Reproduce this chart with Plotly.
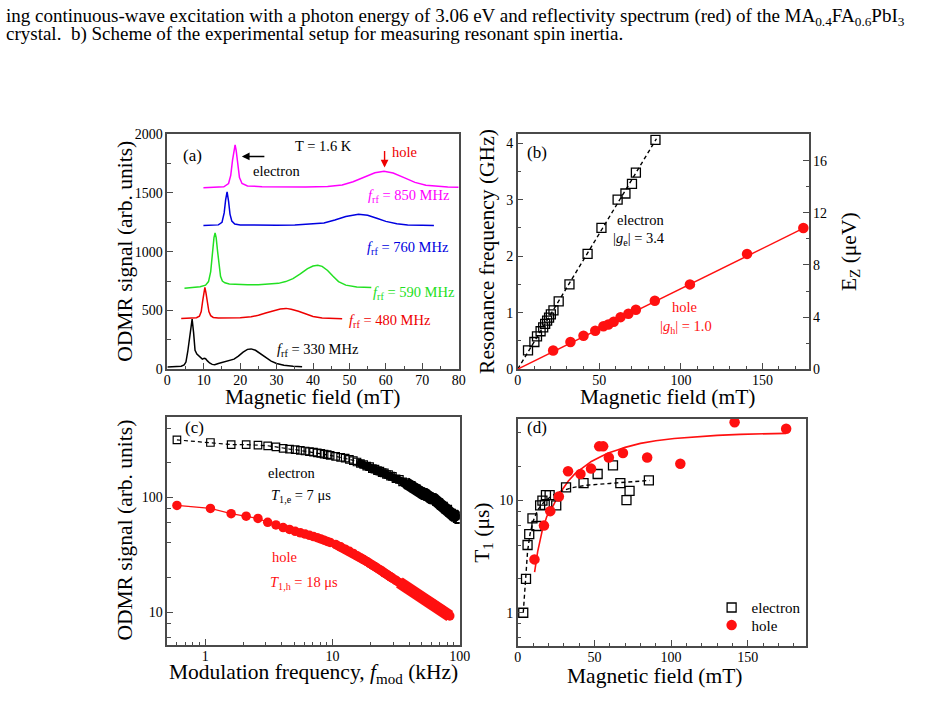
import plotly.graph_objects as go

W, H = 947, 702
FONT = "Liberation Serif, Times New Roman, serif"
FRAME = "#4a4a4a"
RED = "#ff1010"

# ---------------- panel (a): ODMR spectra ----------------
a_B_330 = [0, 2, 3.8, 4.6, 5.1, 5.6, 6.0, 6.4, 6.8, 7.2, 7.6, 8.1, 8.7, 9.2, 9.6, 10.1, 10.5, 11.0, 11.6, 12.3,
           13.0, 14.0, 15.5, 17.0, 18.3, 19.5, 20.8, 22.0, 23.0, 24.2, 25.5, 27.0, 28.5, 30.0, 32.0, 34.5, 37.0]
a_S_330 = [18, 20, 25, 35, 60, 150, 260, 360, 425, 310, 160, 128, 112, 95, 85, 92, 88, 70, 52, 40,
           38, 48, 62, 70, 85, 110, 145, 168, 172, 160, 130, 95, 68, 48, 32, 24, 20]
a_B_480 = [3.8, 6, 8, 8.8, 9.3, 9.7, 10.0, 10.3, 10.6, 11.0, 11.4, 11.9, 12.6, 14, 17, 20, 23, 25, 27, 29,
           31, 32.6, 34, 36, 38, 40, 42.5, 45, 48]
a_S_480 = [430, 432, 437, 450, 490, 580, 660, 695, 650, 560, 490, 455, 440, 435, 436, 438, 445, 458, 478, 498,
           512, 517, 510, 492, 468, 448, 436, 430, 428]
a_B_590 = [4.7, 7, 9, 10.5, 11.3, 11.9, 12.4, 12.8, 13.1, 13.4, 13.8, 14.2, 14.6, 15.1, 15.8, 17, 19, 22, 25,
           28, 30.5, 32.5, 34.5, 36.5, 38.5, 40, 41.3, 42.5, 44, 45.5, 47, 49, 52, 56]
a_S_590 = [688, 695, 702, 715, 745, 830, 1000, 1120, 1160, 1120, 1000, 900, 790, 750, 735, 725, 720, 718, 718,
           722, 730, 745, 770, 810, 855, 878, 885, 875, 840, 790, 745, 715, 700, 695]
a_B_760 = [9.9, 12, 14, 15.0, 15.6, 16.0, 16.4, 16.8, 17.2, 17.7, 18.5, 20, 25, 30, 35, 40, 43, 46, 49, 52.5,
           55, 57.5, 60, 63, 66, 70, 73.2]
a_S_760 = [1222, 1224, 1228, 1250, 1330, 1440, 1510, 1430, 1320, 1260, 1235, 1228, 1225, 1225, 1228, 1235,
           1245, 1270, 1300, 1318, 1310, 1285, 1258, 1238, 1228, 1224, 1222]
a_B_850 = [9.9, 13, 15.5, 16.8, 17.4, 17.9, 18.3, 18.6, 18.9, 19.3, 19.8, 20.5, 22, 26, 32, 38, 44, 48, 51,
           54, 57, 59.5, 62, 65, 68, 71, 74, 77, 80]
a_S_850 = [1545, 1547, 1552, 1580, 1650, 1780, 1880, 1910, 1860, 1740, 1630, 1580, 1560, 1553, 1550, 1550,
           1555, 1568, 1595, 1635, 1672, 1685, 1670, 1630, 1590, 1566, 1555, 1550, 1548]
a_labels = ["330", "480", "590", "760", "850"]
a_colors = ["#000000", "#ee0000", "#22e022", "#0000e0", "#ff00ff"]

# ---------------- panel (b): resonance frequency ----------------
b_e_B = [6.3, 10.2, 11.8, 14.0, 15.6, 16.8, 18.0, 19.2, 20.3, 21.9, 25.1, 31.7, 42.8, 51.3, 61.2, 66.0, 70.0, 72.4, 84.4]
b_e_f = [0.33, 0.48, 0.58, 0.67, 0.74, 0.80, 0.86, 0.91, 0.97, 1.04, 1.20, 1.50, 2.04, 2.50, 3.00, 3.11, 3.28, 3.48, 4.06]
b_h_B = [21.7, 32.3, 40.3, 47.5, 52.5, 55.5, 58.8, 63.0, 67.8, 72.4, 84.0, 105.5, 140.5, 175.0]
b_h_f = [0.33, 0.48, 0.59, 0.68, 0.76, 0.79, 0.84, 0.92, 0.98, 1.05, 1.21, 1.50, 2.04, 2.50]
b_e_fitB = [0, 85]
b_e_fitf = [0, 4.08]
b_h_fitB = [0, 175.5]
b_h_fitf = [0, 2.5]

# ---------------- panel (c): modulation frequency dependence ----------------
c_e_f = [0.6, 1.1, 1.6, 2.1, 2.6, 3.1, 3.6, 4.1, 4.6, 5.1, 5.6, 6.1, 6.6, 7.1, 7.6, 8.1, 8.6, 9.1, 9.6,
         10.6, 11.6, 12.6, 13.6, 14.6, 15.6, 16.6, 17.6, 18.6, 19.6, 20.6, 21.6, 22.6, 23.6, 24.6, 25.6, 26.6,
         27.6, 28.6, 29.6, 31.6, 33.6, 35.6, 37.6, 39.6, 41.6, 43.6, 45.6, 47.6, 49.6, 51.6, 53.6, 55.6, 57.6,
         59.6, 62.6, 65.6, 68.6, 71.6, 74.6, 77.6, 80.6, 83.6, 86.6, 89.6, 92.6, 95.6, 98.6]
c_e_S = [316, 300, 288, 288, 285, 281, 275, 267, 263, 260, 256, 253, 250, 247, 244, 241, 238, 235, 232,
         227, 223, 219, 214, 209, 203, 197, 193, 187, 185, 178, 176, 171, 169, 164, 163, 158, 158, 153, 152,
         145, 143, 136, 134, 128, 127, 121, 119, 114, 112, 107, 107, 102, 102, 98, 97, 92, 90, 85, 84, 79,
         79, 74, 73, 69, 69, 65, 64]
c_h_f = [0.6, 1.1, 1.6, 2.1, 2.6, 3.1, 3.6, 4.1, 4.6, 5.1, 5.6, 6.1, 6.6, 7.1, 7.6, 8.1, 8.6, 9.1, 9.6,
         10.6, 11.6, 12.6, 13.6, 14.6, 15.6, 16.6, 17.6, 18.6, 19.6, 20.6, 21.6, 22.6, 23.6, 24.6, 25.6, 26.6,
         27.6, 28.6, 29.6, 31.6, 33.6, 35.6, 37.6, 39.6, 41.6, 43.6, 45.6, 47.6, 49.6, 51.6, 53.6, 55.6, 57.6,
         59.6, 62.6, 65.6, 68.6, 71.6, 74.6, 77.6, 80.6, 83.6]
c_h_S = [85, 80, 72, 68.5, 65.5, 60.5, 57.5, 54.5, 52.5, 50.5, 49, 47.8, 46.6, 45.5, 44.5, 43.4, 42.3, 41.3,
         40.4, 38.8, 37, 35.3, 33.8, 32.4, 31, 29.8, 28.7, 27.6, 26.6, 25.7, 24.9, 24.1, 23.4, 22.7, 22, 21.4,
         20.8, 20.3, 19.8, 18.9, 18.1, 17.3, 16.7, 16.1, 15.6, 15.1, 14.6, 14.2, 13.8, 13.4, 13.0, 12.7, 12.4,
         12.1, 11.7, 11.3, 10.9, 10.6, 10.25, 9.9, 9.55, 9.25]

# ---------------- panel (d): T1 vs magnetic field ----------------
d_e_B = [3.6, 5.4, 6.4, 7.5, 9.6, 12.2, 14.6, 16.1, 17.6, 18.4, 20.8, 25.1, 31.5, 42.9, 52.1, 62.1, 66.9, 70.9, 72.9, 85.5]
d_e_T = [1.0, 2.0, 4.0, 5.0, 6.9, 5.9, 9.0, 9.9, 9.1, 11.1, 11.1, 9.0, 13.0, 14.2, 17.1, 20.4, 14.2, 10.0, 12.1, 15.0]
d_h_B = [10.9, 17.1, 21.2, 26.8, 32.8, 40.9, 47.8, 53.1, 55.7, 59.4, 68.6, 84.4, 106.0, 141.4, 175.0]
d_h_T = [2.98, 5.95, 8.0, 10.8, 18.1, 17.1, 19.1, 30.1, 30.1, 24.0, 26.3, 24.0, 21.1, 49.3, 43.2]
d_e_fitB = [3.6, 4.5, 5.4, 6.4, 8, 10, 13, 17, 22, 28, 35, 45, 60, 75, 86]
d_e_fitT = [1.0, 1.45, 2.0, 3.5, 5.0, 6.5, 8.2, 9.6, 10.9, 12.0, 12.9, 13.6, 14.1, 14.6, 15.0]
d_h_fitB = [11, 13, 16, 19, 22.5, 26, 29, 33, 37.5, 43, 48, 54, 59, 65, 70, 80, 90, 102, 115, 130, 145, 160, 175]
d_h_fitT = [2.3, 3.5, 5.4, 7.2, 8.6, 10.7, 12.4, 14.8, 17.3, 19.8, 22.1, 24.3, 26.3, 28.0, 29.5, 32.0, 33.8,
            35.3, 36.5, 37.7, 38.5, 39.0, 39.3]


def dx(x0, x1):
    return [x0 / W, x1 / W]


def dy(y0, y1):
    return [1 - y1 / H, 1 - y0 / H]


def P(x, y):
    return x / W, 1 - y / H


def axis(**kw):
    base = dict(showline=True, linecolor=FRAME, linewidth=1.5, mirror=True, ticks="inside", ticklen=6,
                tickwidth=1.2, tickcolor=FRAME, showgrid=False, zeroline=False,
                tickfont=dict(family=FONT, size=14, color="black"))
    base.update(kw)
    return base


def minor(**kw):
    base = dict(ticks="inside", ticklen=3.5, tickwidth=1, tickcolor=FRAME, showgrid=False)
    base.update(kw)
    return base


DASH = "4px,3px"
fig = go.Figure()

# panel a traces
for B, S, col in zip([a_B_330, a_B_480, a_B_590, a_B_760, a_B_850],
                     [a_S_330, a_S_480, a_S_590, a_S_760, a_S_850], a_colors):
    fig.add_trace(go.Scatter(x=B, y=S, mode="lines", line=dict(color=col, width=1.5),
                             xaxis="x", yaxis="y", showlegend=False, hoverinfo="skip"))

# panel b traces
fig.add_trace(go.Scatter(x=b_e_fitB, y=b_e_fitf, mode="lines", line=dict(color="black", width=1.4, dash=DASH),
                         xaxis="x2", yaxis="y2", showlegend=False))
fig.add_trace(go.Scatter(x=b_h_fitB, y=b_h_fitf, mode="lines", line=dict(color=RED, width=1.5),
                         xaxis="x2", yaxis="y2", showlegend=False))
fig.add_trace(go.Scatter(x=b_e_B, y=b_e_f, mode="markers",
                         marker=dict(symbol="square-open", size=9, color="black", line=dict(width=1.3)),
                         xaxis="x2", yaxis="y2", showlegend=False))
fig.add_trace(go.Scatter(x=b_h_B, y=b_h_f, mode="markers",
                         marker=dict(symbol="circle", size=10.5, color=RED, line=dict(width=0)),
                         xaxis="x2", yaxis="y2", showlegend=False))
# invisible trace to activate right axis of panel b
fig.add_trace(go.Scatter(x=[None], y=[None], xaxis="x2", yaxis="y5", showlegend=False))

# panel c traces: dense parts of the measured curves are drawn as a thick band under the markers
for i0, wdt in [(24, 8), (42, 12)]:
    fig.add_trace(go.Scatter(x=c_e_f[i0:], y=c_e_S[i0:], mode="lines", line=dict(color="black", width=wdt),
                             xaxis="x3", yaxis="y3", showlegend=False, hoverinfo="skip"))
for i0, wdt in [(19, 9), (40, 12)]:
    fig.add_trace(go.Scatter(x=c_h_f[i0:], y=c_h_S[i0:], mode="lines", line=dict(color=RED, width=wdt),
                             xaxis="x3", yaxis="y3", showlegend=False, hoverinfo="skip"))
fig.add_trace(go.Scatter(x=c_e_f, y=c_e_S, mode="lines+markers",
                         line=dict(color="black", width=1.2, dash=DASH),
                         marker=dict(symbol="square-open", size=7.5, color="black", line=dict(width=1.2)),
                         xaxis="x3", yaxis="y3", showlegend=False))
fig.add_trace(go.Scatter(x=c_h_f, y=c_h_S, mode="lines+markers",
                         line=dict(color=RED, width=1.2),
                         marker=dict(symbol="circle", size=9.5, color=RED, line=dict(width=0)),
                         xaxis="x3", yaxis="y3", showlegend=False))

# panel d traces
fig.add_trace(go.Scatter(x=d_e_fitB, y=d_e_fitT, mode="lines", line=dict(color="black", width=1.4, dash=DASH),
                         xaxis="x4", yaxis="y4", showlegend=False))
fig.add_trace(go.Scatter(x=d_h_fitB, y=d_h_fitT, mode="lines", line=dict(color=RED, width=1.6),
                         xaxis="x4", yaxis="y4", showlegend=False))
fig.add_trace(go.Scatter(x=d_e_B, y=d_e_T, mode="markers", name="electron",
                         marker=dict(symbol="square-open", size=9, color="black", line=dict(width=1.3)),
                         xaxis="x4", yaxis="y4", showlegend=True, legend="legend"))
fig.add_trace(go.Scatter(x=d_h_B, y=d_h_T, mode="markers", name="hole",
                         marker=dict(symbol="circle", size=10.5, color=RED, line=dict(width=0)),
                         xaxis="x4", yaxis="y4", showlegend=True, legend="legend2"))

log_minor_x = [0.6, 0.7, 0.8, 0.9, 2, 3, 4, 5, 6, 7, 8, 9, 20, 30, 40, 50, 60, 70, 80, 90]
log_minor_yc = [6, 8, 20, 40, 60, 80, 200, 400]
log_minor_yd = [0.6, 0.8, 2, 4, 6, 8, 20, 40]

legend_style = dict(xanchor="left", yanchor="top", bgcolor="rgba(0,0,0,0)",
                    font=dict(family=FONT, size=15, color="black"))

fig.update_layout(
    width=W, height=H, margin=dict(l=0, r=0, t=0, b=0),
    paper_bgcolor="white", plot_bgcolor="white",
    font=dict(family=FONT, color="black"),
    xaxis=axis(domain=dx(166, 462), range=[0, 80], tickvals=list(range(0, 81, 10)),
               minor=minor(dtick=5), anchor="y", ticklabelstandoff=-3),
    yaxis=axis(domain=dy(130, 370), range=[0, 2000], tickvals=[0, 500, 1000, 1500, 2000],
               minor=minor(dtick=250), anchor="x"),
    xaxis2=axis(domain=dx(522, 818), range=[0, 178.5], tickvals=[0, 50, 100, 150],
                minor=minor(dtick=10), anchor="y2", ticklabelstandoff=-3),
    yaxis2=axis(domain=dy(130, 370), range=[0, 4.16], tickvals=[0, 1, 2, 3, 4],
                minor=minor(dtick=0.5), anchor="x2"),
    yaxis5=axis(overlaying="y2", side="right", anchor="x2", range=[0, 18.05], tickvals=[0, 4, 8, 12, 16],
                minor=minor(dtick=2), showline=False, mirror=False, ticklabelstandoff=3),
    xaxis3=axis(domain=dx(166, 463), type="log", range=[-0.297, 2.0], tickvals=[1, 10, 100],
                ticktext=["1", "10", "100"], minor=minor(tickvals=log_minor_x), anchor="y3",
                ticklabelstandoff=-3),
    yaxis3=axis(domain=dy(419, 652), type="log", range=[0.7127, 2.699], tickvals=[10, 100],
                ticktext=["10", "100"], minor=minor(tickvals=log_minor_yc), anchor="x3"),
    xaxis4=axis(domain=dx(522, 815), range=[0, 188], tickvals=[0, 50, 100, 150],
                minor=minor(dtick=10), anchor="y4", ticklabelstandoff=-3),
    yaxis4=axis(domain=dy(421, 653), type="log", range=[-0.2957, 1.7217], tickvals=[1, 10],
                ticktext=["1", "10"], minor=minor(tickvals=log_minor_yd), anchor="x4"),
    legend=dict(x=719 / W, y=1 - 597 / H, **legend_style),
    legend2=dict(x=719 / W, y=1 - 615 / H, **legend_style),
)

annotations = []


def txt(text, x, y, size=14.5, color="black", xanchor="center", angle=0):
    px, py = P(x, y)
    annotations.append(dict(text=text, x=px, y=py, xref="paper", yref="paper", showarrow=False,
                            xanchor=xanchor, yanchor="middle", textangle=angle,
                            font=dict(family=FONT, size=size, color=color)))


# caption text above the figure
txt("ing continuous-wave excitation with a photon energy of 3.06 eV and reflectivity spectrum (red) of the "
    "MA<sub>0.4</sub>FA<sub>0.6</sub>PbI<sub>3</sub>", 0, 10, size=19, xanchor="left")
txt("crystal.  b) Scheme of the experimental setup for measuring resonant spin inertia.", 0, 28,
    size=19, xanchor="left")

# panel a
txt("(a)", 191.7, 151.7, size=17)
txt("T = 1.6 K", 325, 141.7, size=14.5)
txt("electron", 276.7, 167.3)
txt("hole", 406.7, 148.3, color="#ee0000")
a_label_pos = [(319.3, 350), (392.7, 320.7), (416.7, 292.7), (410, 246.7), (411.7, 192.7)]
for lab, col, (x, y) in zip(a_labels, a_colors, a_label_pos):
    txt("<i>f</i><sub>rf</sub> = %s MHz" % lab, x, y, color=col)
txt("ODMR signal (arb. units)", 123, 250, size=21.5, angle=-90)
txt("Magnetic field (mT)", 314, 399, size=21.5)

# arrows in panel a
for (hx, hy, ax, ay, col) in [(241.7, 152.7, 24, 0, "black"), (386.7, 164, 0, -18, "#ee0000")]:
    px, py = P(hx, hy)
    annotations.append(dict(text="", x=px, y=py, xref="paper", yref="paper", showarrow=True,
                            ax=ax, ay=ay, axref="pixel", ayref="pixel", arrowhead=2, arrowsize=1.1,
                            arrowwidth=1.4, arrowcolor=col))

# panel b
txt("(b)", 541.7, 149, size=17)
txt("electron", 646.7, 217.7)
txt("|<i>g</i><sub>e</sub>| = 3.4", 645, 236.7)
txt("hole", 691.7, 306.7, color=RED)
txt("|<i>g</i><sub>h</sub>| = 1.0", 693.3, 326.7, color=RED)
txt("Resonance frequency (GHz)", 490, 250, size=21.5, angle=-90)
txt("Magnetic field (mT)", 675, 399, size=21.5)
txt("E<sub>Z</sub> (μeV)", 860, 250, size=21.5, angle=-90)

# panel c
txt("(c)", 193.3, 430, size=17)
txt("electron", 291.7, 476)
txt("<i>T</i><sub>1,e</sub> = 7 μs", 301.7, 500)
txt("hole", 285, 561.7, color=RED)
txt("<i>T</i><sub>1,h</sub> = 18 μs", 305, 588.3, color=RED)
txt("ODMR signal (arb. units)", 123, 535, size=21.5, angle=-90)
txt("Modulation frequency, <i>f</i><sub>mod</sub> (kHz)", 314, 681, size=21.5)

# panel d
txt("(d)", 541.7, 430, size=17)
txt("T<sub>1</sub> (μs)", 487, 537, size=21.5, angle=-90)
txt("Magnetic field (mT)", 661, 684, size=21.5)

fig.update_layout(annotations=annotations)
fig.write_html("out.html")
